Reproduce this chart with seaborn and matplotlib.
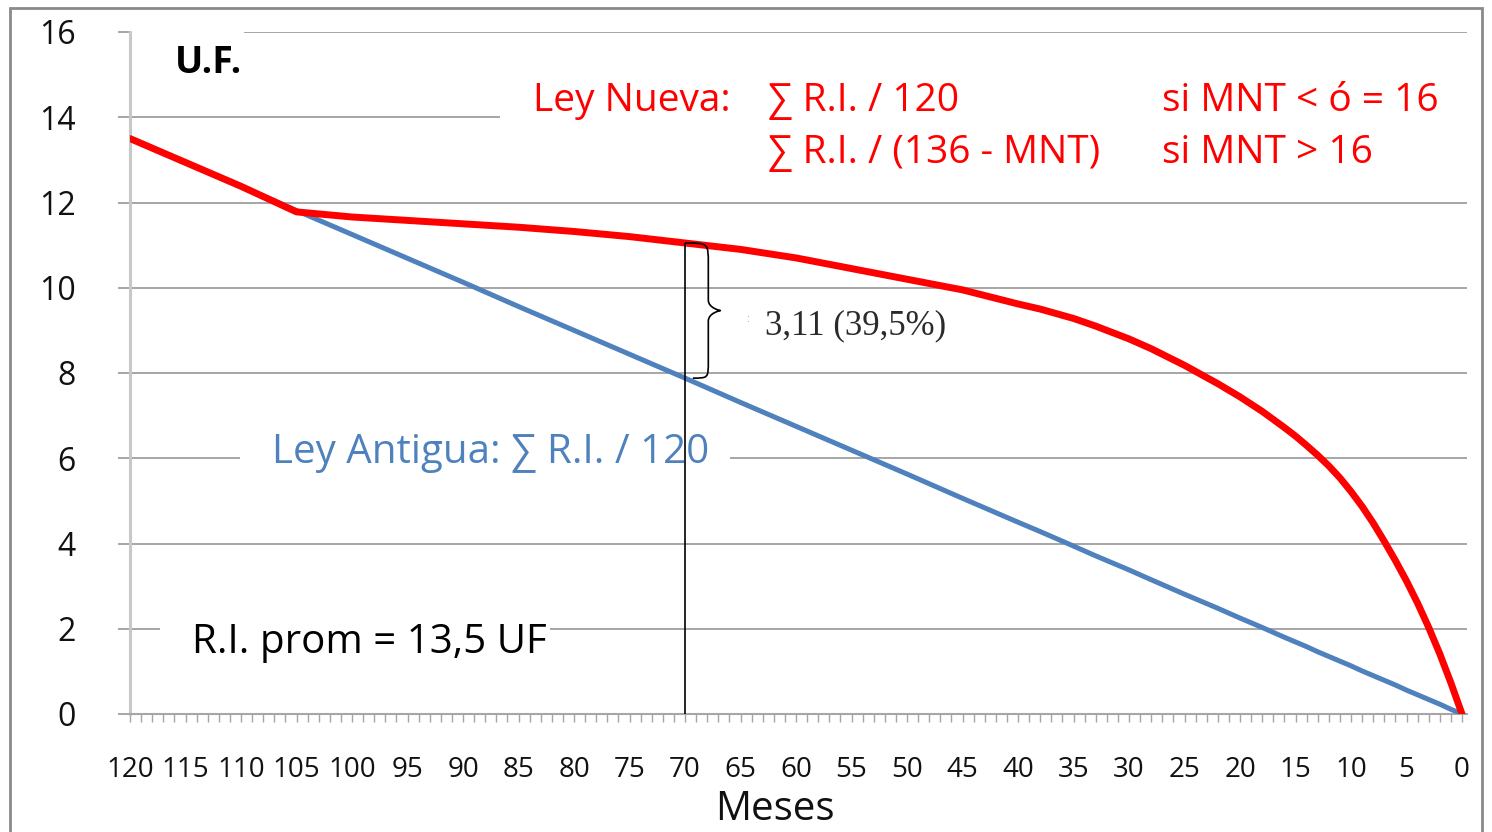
import seaborn as sns
import matplotlib.pyplot as plt
from matplotlib.patches import Rectangle, PathPatch
from matplotlib.path import Path
from matplotlib.ticker import MultipleLocator

# datos
meses = [120, 115, 110, 105, 100, 95, 90, 85, 80, 75, 70, 65, 60, 55, 50,
         45, 40, 38, 35, 33, 30, 28, 25, 22, 20, 18, 16, 15, 14, 13, 12, 11,
         10, 9, 8, 7, 6, 5, 4, 3, 2, 1, 0]
ley_nueva = [13.5, 12.94, 12.38, 11.78, 11.66, 11.58, 11.5, 11.42, 11.32, 11.2,
             11.05, 10.9, 10.7, 10.45, 10.2, 9.95, 9.62, 9.5, 9.28, 9.1, 8.8,
             8.57, 8.18, 7.75, 7.44, 7.1, 6.72, 6.52, 6.3, 6.07, 5.82, 5.54,
             5.22, 4.87, 4.48, 4.05, 3.6, 3.12, 2.6, 2.03, 1.41, 0.73, 0.0]
ley_antigua = [13.5, 12.94, 12.38, 11.81, 11.25, 10.69, 10.13, 9.56, 9.0, 8.44,
               7.88, 7.31, 6.75, 6.19, 5.63, 5.06, 4.5, 4.28, 3.94, 3.71, 3.38,
               3.15, 2.81, 2.48, 2.25, 2.03, 1.8, 1.69, 1.58, 1.46, 1.35, 1.24,
               1.13, 1.01, 0.9, 0.79, 0.68, 0.56, 0.45, 0.34, 0.23, 0.11, 0.0]
mes_marca = 70
texto_dif = "3,11 (39,5%)"

ROJO = '#ff0000'
AZUL = '#4f81bd'

sns.set_theme(style='white')
plt.rcParams['font.family'] = ['Open Sans', 'DejaVu Sans']

W, H = 1492, 832
fig = plt.figure(figsize=(W / 100, H / 100), dpi=100)
# ejes en pixeles: x 130..1467, y 32..714
AX_L, AX_R, AX_T, AX_B = 130, 1467, 32, 714
ax = fig.add_axes([AX_L / W, 1 - AX_B / H, (AX_R - AX_L) / W, (AX_B - AX_T) / H])


def px(x, y):
    return ((x - AX_L) / (AX_R - AX_L), (AX_B - y) / (AX_B - AX_T))


sns.lineplot(x=meses, y=ley_antigua, color=AZUL, lw=3.6, ax=ax, zorder=3)
sns.lineplot(x=meses, y=ley_nueva, color=ROJO, lw=5, ax=ax, zorder=4)

ax.set_xlim(120, -0.45)
ax.set_ylim(0, 16)
ax.xaxis.set_major_locator(MultipleLocator(5))
ax.xaxis.set_minor_locator(MultipleLocator(1))
ax.yaxis.set_major_locator(MultipleLocator(2))
ax.set_axisbelow(True)
ax.yaxis.grid(True, color='#a6a6a6', lw=1.4)
ax.xaxis.grid(False)

ax.tick_params(axis='x', which='both', direction='out', length=6, width=1,
               color='#a6a6a6', pad=24, labelsize=20, bottom=True,
               labelcolor='#111111')
ax.tick_params(axis='y', direction='out', length=9, width=1.4,
               color='#a6a6a6', pad=30, labelsize=23, left=True,
               labelcolor='#111111')
for s in ['top', 'right']:
    ax.spines[s].set_visible(False)
ax.spines['left'].set_color('#c8c8c8')
ax.spines['left'].set_linewidth(2.2)
ax.spines['bottom'].set_color('#a6a6a6')
ax.spines['bottom'].set_linewidth(1.5)

ax.set_xlabel('Meses', fontsize=29, color='#111111', va='center')
ax.xaxis.set_label_coords(*px(775, 810))
ax.set_ylabel('')

# cajas blancas detras de los textos
for x0, y0, x1, y1 in [(132, 26, 244, 90), (500, 45, 1475, 185),
                       (240, 435, 730, 480), (160, 612, 550, 668)]:
    a0 = px(x0, y1)
    a1 = px(x1, y0)
    ax.add_patch(Rectangle(a0, a1[0] - a0[0], a1[1] - a0[1], transform=ax.transAxes,
                           facecolor='white', edgecolor='none', zorder=1, clip_on=False))

# linea vertical y llave
i = meses.index(mes_marca)
top, bot = ley_nueva[i], ley_antigua[i]
ax.vlines(mes_marca, 0, top, color='black', lw=1.2, zorder=5)
mid = (top + bot) / 2
x2, tip = mes_marca - 2.1, mes_marca - 3.2
verts = [(mes_marca, top), (x2, top), (x2, top), (x2, top - 0.5),
         (x2, mid + 0.25),
         (x2, mid + 0.05), (tip, mid), (tip, mid),
         (tip, mid), (x2, mid - 0.05), (x2, mid - 0.25),
         (x2, bot + 0.4),
         (x2, bot), (x2, bot), (mes_marca - 0.7, bot)]
codes = [Path.MOVETO, Path.CURVE4, Path.CURVE4, Path.CURVE4,
         Path.LINETO,
         Path.CURVE4, Path.CURVE4, Path.CURVE4,
         Path.CURVE4, Path.CURVE4, Path.CURVE4,
         Path.LINETO,
         Path.CURVE4, Path.CURVE4, Path.CURVE4]
ax.add_patch(PathPatch(Path(verts, codes), facecolor='none', edgecolor='black',
                       lw=1.2, zorder=5))

# textos
kw = dict(transform=ax.transAxes, va='center', ha='left', zorder=6)
ax.text(*px(175, 63), 'U.F.', fontsize=27, fontweight='bold', color='black', **kw)
ax.text(*px(533, 101), 'Ley Nueva:', fontsize=28, color=ROJO, **kw)
ax.text(*px(768, 101), '∑ R.I. / 120', fontsize=28, color=ROJO, **kw)
ax.text(*px(768, 153), '∑ R.I. / (136 - MNT)', fontsize=28, color=ROJO, **kw)
ax.text(*px(1162, 101), 'si MNT < ó = 16', fontsize=28, color=ROJO, **kw)
ax.text(*px(1162, 153), 'si MNT > 16', fontsize=28, color=ROJO, **kw)
ax.text(*px(272, 453), 'Ley Antigua: ∑ R.I. / 120', fontsize=29, color=AZUL, **kw)
ax.text(*px(192, 643), 'R.I. prom = 13,5 UF', fontsize=29, color='black', **kw)
ax.text(*px(746, 320), ':', fontsize=8, color='#e8a060', **kw)
ax.text(*px(765, 326), texto_dif, fontsize=25, color='#2a2a2a',
        family='Liberation Serif', **kw)

# marco exterior
fig.add_artist(Rectangle((10 / W, -0.05), 1472 / W, 1.05 - 8 / H, transform=fig.transFigure,
                         facecolor='none', edgecolor='#8a8a8a', lw=2))

fig.savefig('out.png', dpi=100)
